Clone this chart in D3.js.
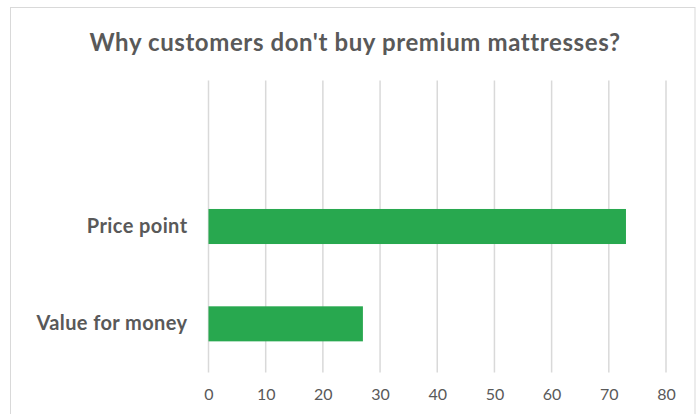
<!DOCTYPE html>
<html>
<head>
<meta charset="utf-8">
<script src="https://cdn.jsdelivr.net/npm/d3@7"></script>
<style>
  html, body { margin: 0; padding: 0; background: #fff; }
  svg { display: block; font-family: Lato, "Open Sans", sans-serif; }
</style>
</head>
<body>
<svg id="chart" width="696" height="414"></svg>
<script>
// Survey reasons, listed bottom-up as the category axis reads
const categories = ["Value for money", "Price point", ""];
const values = [27, 73, null];
const xTicks = [0, 10, 20, 30, 40, 50, 60, 70, 80];
const title = "Why customers don't buy premium mattresses?";

const svg = d3.select("#chart");
const plot = { left: 208.5, right: 666, top: 80.5, bottom: 372.5 };
const textColor = "#595959";
const gridColor = "#d9d9d9";
const barColor = "#28a84f";

// chart frame
svg.append("rect")
  .attr("x", 10.5).attr("y", 7.5)
  .attr("width", 684.5).attr("height", 420)
  .attr("fill", "#fff")
  .attr("stroke", gridColor).attr("stroke-width", 1);

const x = d3.scaleLinear().domain([0, 80]).range([plot.left, plot.right]);
const y = d3.scaleBand().domain(categories.slice().reverse())
  .range([plot.top, plot.bottom]).padding(0);
const barH = y.bandwidth() * 0.36;

// vertical gridlines
svg.append("g").selectAll("line").data(xTicks).join("line")
  .attr("x1", d => x(d)).attr("x2", d => x(d))
  .attr("y1", plot.top).attr("y2", plot.bottom)
  .attr("stroke", gridColor).attr("stroke-width", 1.5);

// bars
const rows = categories.map((c, i) => ({ c, v: values[i] })).filter(d => d.v != null);
svg.append("g").selectAll("rect").data(rows).join("rect")
  .attr("x", x(0))
  .attr("y", d => y(d.c) + (y.bandwidth() - barH) / 2)
  .attr("width", d => x(d.v) - x(0))
  .attr("height", barH)
  .attr("fill", barColor);

// x tick labels
const xAxis = d3.axisBottom(x).tickValues(xTicks).tickSize(0).tickPadding(0);
const gx = svg.append("g").attr("transform", `translate(0,${plot.bottom + 16})`).call(xAxis);
gx.select(".domain").remove();
gx.selectAll("text")
  .attr("dy", "0.71em")
  .attr("fill", textColor)
  .style("font-size", "16px")
  .style("font-family", "Lato, sans-serif");

// category labels
const yAxis = d3.axisLeft(y).tickSize(0).tickPadding(0);
const gy = svg.append("g").attr("transform", `translate(${plot.left - 21},0)`).call(yAxis);
gy.select(".domain").remove();
gy.selectAll("text")
  .attr("fill", textColor)
  .style("font-size", "20px")
  .style("letter-spacing", "0.4px")
  .style("font-weight", "bold")
  .style("font-family", "Lato, sans-serif");

// title
svg.append("text")
  .attr("x", 355).attr("y", 51)
  .attr("text-anchor", "middle")
  .attr("fill", textColor)
  .style("font-size", "24px")
  .style("letter-spacing", "0.6px")
  .style("font-weight", "bold")
  .text(title);
</script>
</body>
</html>
